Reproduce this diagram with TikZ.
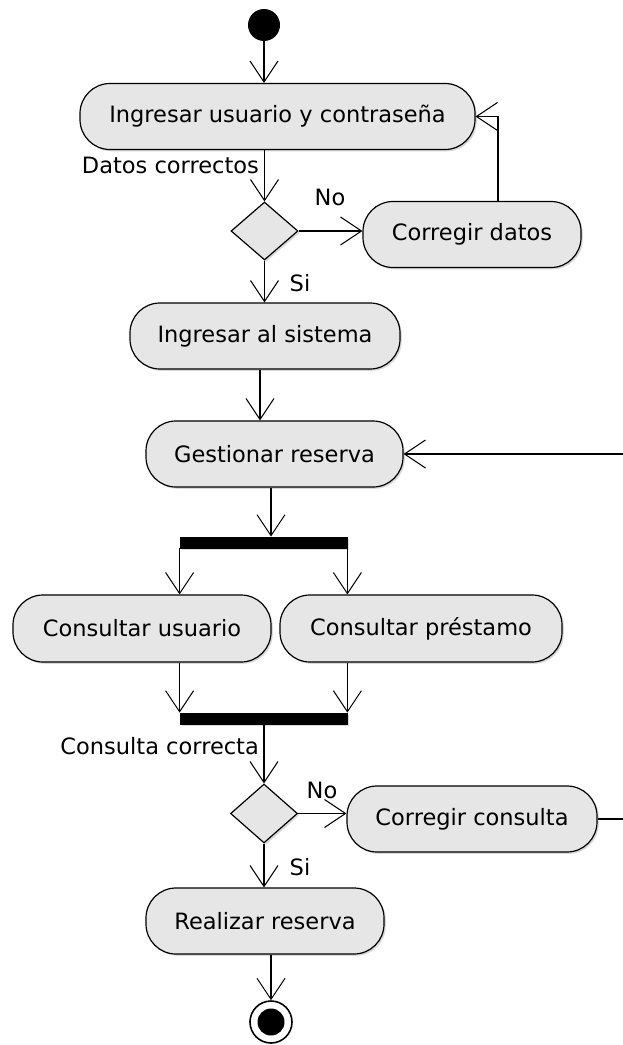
\documentclass[tikz,border=0pt]{standalone}
\usepackage{fontspec}
\setmainfont{DejaVu Sans}
\usetikzlibrary{shapes.geometric,arrows.meta,shadows}
\definecolor{actfill}{RGB}{230,230,230}
\begin{document}
\begin{tikzpicture}[x=1pt,y=-1pt,
  every node/.style={font=\fontsize{22.5}{27}\selectfont},
  shad/.style={drop shadow={shadow xshift=1.8pt,shadow yshift=-1.8pt,fill=black!30}},
  act/.style={draw,line width=1.2pt,fill=actfill,rounded corners=30pt,inner sep=0pt,minimum height=66pt,shad},
  dec/.style={diamond,draw,line width=1.2pt,fill=actfill,minimum width=67pt,minimum height=58pt,inner sep=0pt,shad},
  bar/.style={draw,fill=black,line width=0.8pt,minimum width=167pt,minimum height=11pt,inner sep=0pt,shad},
  lab/.style={inner sep=0pt},
  arr/.style={line width=1.2pt,-{Straight Barb[length=21pt,width=28pt,line width=1pt]}},
  ln/.style={line width=1.2pt}
]
\useasboundingbox (0,0) rectangle (622,1045);
\fill[white] (0,0) rectangle (622,1045);

% nodes
\node[circle,fill=black,minimum size=32pt,inner sep=0pt] (S) at (264,25) {};
\node[act,minimum width=395pt] (A) at (277.5,116.5) {Ingresar usuario y contraseña};
\node[dec] (D1) at (264.5,231) {};
\node[act,minimum width=218pt] (C1) at (472,234.5) {Corregir datos};
\node[act,minimum width=270pt] (B) at (265,336) {Ingresar al sistema};
\node[act,minimum width=257pt] (G) at (274.5,454) {Gestionar reserva};
\node[bar] (F1) at (263.5,542.5) {};
\node[act,minimum width=258pt,minimum height=67pt] (CU) at (142,628.5) {Consultar usuario};
\node[act,minimum width=282pt,minimum height=67pt] (CP) at (421,628.5) {Consultar préstamo};
\node[bar] (J) at (263.5,718.5) {};
\node[dec,minimum height=59pt] (D2) at (264,813.5) {};
\node[act,minimum width=250pt] (CC) at (472,819) {Corregir consulta};
\node[act,minimum width=238pt] (R) at (265,921) {Realizar reserva};
\node[circle,draw,line width=1.6pt,fill=white,minimum size=42pt,inner sep=0pt] (E) at (271,1022) {};
\node[circle,fill=black,minimum size=27pt,inner sep=0pt] (E2) at (E) {};

% helper coordinates
\coordinate (fb) at (498,113);
\coordinate (x260) at (260,0);
\coordinate (x271) at (271,0);
\coordinate (lx) at (660,0);

% labels
\node[lab,anchor=east] (L1) at (259,165) {Datos correctos};
\node[lab] (L2) at (330,197) {No};
\node[lab] (L3) at (300,283) {Si};
\node[lab,anchor=east] (L4) at (259,746) {Consulta correcta};
\node[lab] (L5) at (322,790) {No};
\node[lab] (L6) at (300,867) {Si};

% connectors
\draw[arr] (S) -- (S |- A.north);
\draw[arr] (A.south -| D1) -- (D1.north);
\draw[arr] (D1.east) -- (D1.east -| C1.west);
\draw[arr] (fb |- C1.north) |- (A.east);
\draw[arr] (D1.south) -- (D1.south |- B.north);
\draw[arr] (B.south -| x260) -- (G.north -| x260);
\draw[arr] (G.south -| x271) -- (F1.north -| x271);
\draw[arr] (F1.south west) -- (F1.south west |- CU.north);
\draw[arr] (F1.south east) -- (F1.south east |- CP.north);
\draw[arr] (CU.south -| J.north west) -- (J.north west);
\draw[arr] (CP.south -| J.north east) -- (J.north east);
\draw[arr] (J.south -| D2) -- (D2.north);
\draw[arr] (D2.east) -- (D2.east -| CC.west);
\draw[arr] (CC.east) -- (CC.east -| lx) |- (G.east);
\draw[arr] (D2.south) -- (D2.south |- R.north);
\draw[arr] (R.south -| E) -- (E.north);
\end{tikzpicture}
\end{document}
